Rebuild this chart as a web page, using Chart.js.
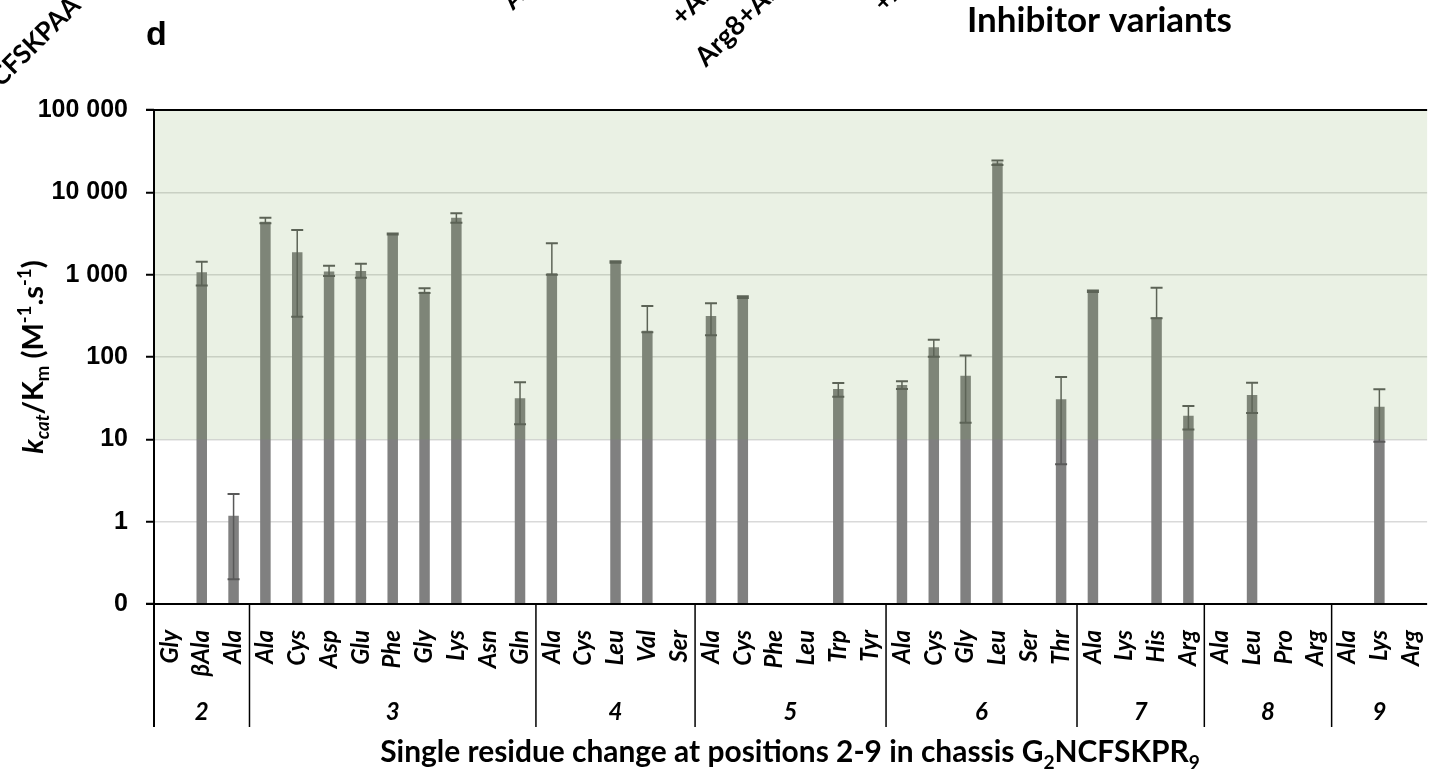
<!DOCTYPE html>
<html>
<head>
<meta charset="utf-8">
<script src="https://cdn.jsdelivr.net/npm/chart.js@4.4.1/dist/chart.umd.min.js"></script>
<style>
  html, body { margin: 0; padding: 0; background: #fff; overflow: hidden; }
  #wrap { position: relative; width: 1458px; height: 776px; }
</style>
</head>
<body>
<div id="wrap"><canvas id="kcat"></canvas></div>
<script>
// residues tested at each position of the chassis
const residues = ['Gly', 'βAla', 'Ala',
  'Ala', 'Cys', 'Asp', 'Glu', 'Phe', 'Gly', 'Lys', 'Asn', 'Gln',
  'Ala', 'Cys', 'Leu', 'Val', 'Ser',
  'Ala', 'Cys', 'Phe', 'Leu', 'Trp', 'Tyr',
  'Ala', 'Cys', 'Gly', 'Leu', 'Ser', 'Thr',
  'Ala', 'Lys', 'His', 'Arg',
  'Ala', 'Leu', 'Pro', 'Arg',
  'Ala', 'Lys', 'Arg'];
const positions = ['2', '3', '4', '5', '6', '7', '8', '9'];
const positionSizes = [3, 9, 5, 6, 6, 4, 4, 3];

// kcat/Km (M-1.s-1), null = not measurable
const kcatKm = [null, 1070, 1.18,
  4400, 1870, 1090, 1110, 3120, 621, 4900, null, 31.5,
  1040, null, 1430, 209, null,
  315, 531, null, null, 40.8, null,
  45.7, 131, 59.3, 23000, null, 30.6,
  628, null, 303, 19.4,
  null, 34.6, null, null,
  null, 24.9, null];
const errLow = [null, 740, 0.2,
  4200, 309, 964, 918, 3080, 600, 4280, null, 15.3,
  1000, null, 1400, 200, null,
  184, 520, null, null, 33, null,
  40.8, 101, 15.9, 21500, null, 4.98,
  615, null, 295, 13.2,
  null, 20.9, null, null,
  null, 9.35, null];
const errHigh = [null, 1440, 2.17,
  4920, 3490, 1285, 1360, 3160, 683, 5560, null, 49.3,
  2400, null, 1460, 417, null,
  449, 545, null, null, 48.3, null,
  50.7, 162, 104, 24300, null, 57.2,
  640, null, 695, 25.4,
  null, 48.7, null, null,
  null, 40.5, null];

const yTicks = [0.1, 1, 10, 100, 1000, 10000, 100000];
const activeRange = [10, 100000];

const labelFont = "Lato, 'Open Sans', sans-serif";
const numFont = "'Liberation Sans', Arial, sans-serif";

function fmt(v) {
  if (v < 1) return '0';
  return String(v).replace(/\B(?=(\d{3})+(?!\d))/g, ' ');
}

// draw text made of pieces (sub/superscripts, italics)
function richWidth(ctx, parts, size) {
  let w = 0;
  parts.forEach(p => {
    const s = p.sub || p.sup ? size * 0.64 : size;
    ctx.font = (p.it ? 'italic ' : '') + 'bold ' + s + 'px ' + labelFont;
    w += ctx.measureText(p.t).width;
  });
  return w;
}
function drawRich(ctx, parts, size, x0) {
  let x = x0;
  parts.forEach(p => {
    const s = p.sub || p.sup ? size * 0.64 : size;
    ctx.font = (p.it ? 'italic ' : '') + 'bold ' + s + 'px ' + labelFont;
    const dy = p.sub ? size * 0.22 : p.sup ? -size * 0.42 : 0;
    ctx.fillText(p.t, x, dy);
    x += ctx.measureText(p.t).width;
  });
}

const yTitle = [
  { t: 'k', it: true }, { t: 'cat', it: true, sub: true }, { t: '/K' }, { t: 'm', sub: true },
  { t: ' (M' }, { t: '-1', sup: true }, { t: '.s' }, { t: '-1', sup: true }, { t: ')' }
];
const xTitle = [
  { t: 'Single residue change at positions 2-9 in chassis G' }, { t: '2', sub: true },
  { t: 'NCFSKPR' }, { t: '9', sub: true }
];

const decor = {
  id: 'decor',
  afterDatasetsDraw(chart) {
    const ctx = chart.ctx;
    const xs = chart.scales.x, ys = chart.scales.y;
    const area = chart.chartArea;

    // error bars
    ctx.save();
    ctx.strokeStyle = '#595959';
    kcatKm.forEach((v, i) => {
      if (v == null) return;
      const x = xs.getPixelForValue(i);
      const yh = ys.getPixelForValue(errHigh[i]);
      const yl = ys.getPixelForValue(errLow[i]);
      ctx.lineWidth = 1.5;
      ctx.beginPath();
      ctx.moveTo(x, yh); ctx.lineTo(x, yl);
      ctx.stroke();
      ctx.lineWidth = 2;
      ctx.beginPath();
      ctx.moveTo(x - 6, yh); ctx.lineTo(x + 6, yh);
      ctx.moveTo(x - 6, yl); ctx.lineTo(x + 6, yl);
      ctx.stroke();
    });
    ctx.restore();

    // green "active" band laid over everything
    const top = ys.getPixelForValue(activeRange[1]);
    const bot = ys.getPixelForValue(activeRange[0]);
    ctx.save();
    ctx.fillStyle = 'rgba(115, 162, 75, 0.15)';
    ctx.fillRect(area.left, top, area.right - area.left, bot - top);
    ctx.restore();

    // axis lines
    ctx.save();
    ctx.strokeStyle = '#000';
    ctx.lineWidth = 2;
    ctx.beginPath();
    ctx.moveTo(area.left - 8, top); ctx.lineTo(area.right, top);
    ctx.moveTo(area.left - 8, area.bottom); ctx.lineTo(area.right, area.bottom);
    ctx.moveTo(area.left, area.top); ctx.lineTo(area.left, area.bottom + 123);
    ctx.stroke();

    // position separators and labels
    ctx.lineWidth = 1.5;
    ctx.fillStyle = '#000';
    ctx.font = 'italic bold 24px ' + labelFont;
    ctx.textAlign = 'center';
    ctx.textBaseline = 'middle';
    const step = xs.getPixelForValue(1) - xs.getPixelForValue(0);
    let start = 0;
    positionSizes.forEach((n, g) => {
      const end = start + n;
      const xl = xs.getPixelForValue(start) - step / 2;
      const xr = xs.getPixelForValue(end - 1) + step / 2;
      if (start > 0) {
        ctx.beginPath();
        ctx.moveTo(xl, area.bottom); ctx.lineTo(xl, area.bottom + 123);
        ctx.stroke();
      }
      ctx.fillText(positions[g], (xl + xr) / 2, 712);
      start = end;
    });
    ctx.restore();
  },
  afterDraw(chart) {
    const ctx = chart.ctx;
    ctx.save();
    ctx.fillStyle = '#000';
    ctx.textBaseline = 'alphabetic';
    ctx.textAlign = 'left';

    // y title
    const yw = richWidth(ctx, yTitle, 29);
    ctx.save();
    ctx.translate(43, 357);
    ctx.rotate(-Math.PI / 2);
    drawRich(ctx, yTitle, 29, -yw / 2);
    ctx.restore();

    // x title, fitted to its width in the figure
    let xsz = 28;
    xsz = xsz * 820 / richWidth(ctx, xTitle, xsz);
    const xw = richWidth(ctx, xTitle, xsz);
    ctx.save();
    ctx.translate(790 - xw / 2, 762);
    drawRich(ctx, xTitle, xsz, 0);
    ctx.restore();

    // panel letter and heading of the panel above
    ctx.font = 'bold 34px ' + numFont;
    ctx.fillText('d', 146, 45);
    ctx.font = 'bold 36px ' + labelFont;
    const hs = 36 * 265 / ctx.measureText('Inhibitor variants').width;
    ctx.font = 'bold ' + hs + 'px ' + labelFont;
    ctx.fillText('Inhibitor variants', 967, 32);

    // cut-off labels of the panel above
    [['CFSKPAA', 1, 88, 26], ['Ala7', 513, 11, 26], ['+Arg8', 682, 27, 27], ['Arg8+Ala9', 706, 68, 27], ['+Ala9', 884, 13, 26]]
      .forEach(([t, x, y, s]) => {
        ctx.font = 'bold ' + s + 'px ' + labelFont;
        ctx.save();
        ctx.translate(x, y);
        ctx.rotate(-Math.PI / 4);
        ctx.fillText(t, 0, 0);
        ctx.restore();
      });
    ctx.restore();
  }
};

new Chart(document.getElementById('kcat'), {
  type: 'bar',
  data: {
    labels: residues,
    datasets: [{
      label: 'kcat/Km',
      data: kcatKm,
      backgroundColor: '#808080',
      borderWidth: 0,
      barPercentage: 0.33,
      categoryPercentage: 1.0
    }]
  },
  options: {
    responsive: true,
    maintainAspectRatio: false,
    animation: false,
    events: [],
    layout: { padding: { top: 110, left: 0, right: 0, bottom: 0 } },
    plugins: { legend: { display: false }, tooltip: { enabled: false } },
    scales: {
      x: {
        grid: { display: false },
        border: { display: false },
        ticks: {
          autoSkip: false,
          minRotation: 90,
          maxRotation: 90,
          padding: 18,
          color: '#000',
          font: { family: labelFont, style: 'italic', weight: 'bold', size: 24 }
        },
        afterFit(scale) { scale.height = 172; }
      },
      y: {
        type: 'logarithmic',
        min: 0.1,
        max: 100000,
        border: { display: false },
        grid: { color: '#d9d9d9', lineWidth: 1.5, tickColor: '#000', tickLength: 8, tickWidth: 2 },
        ticks: {
          padding: 18,
          color: '#000',
          font: { family: numFont, weight: 'bold', size: 25 },
          callback: (v) => fmt(v)
        },
        afterBuildTicks(scale) { scale.ticks = yTicks.map(v => ({ value: v })); },
        afterFit(scale) { scale.width = 154; }
      }
    }
  },
  plugins: [decor]
});
</script>
</body>
</html>
